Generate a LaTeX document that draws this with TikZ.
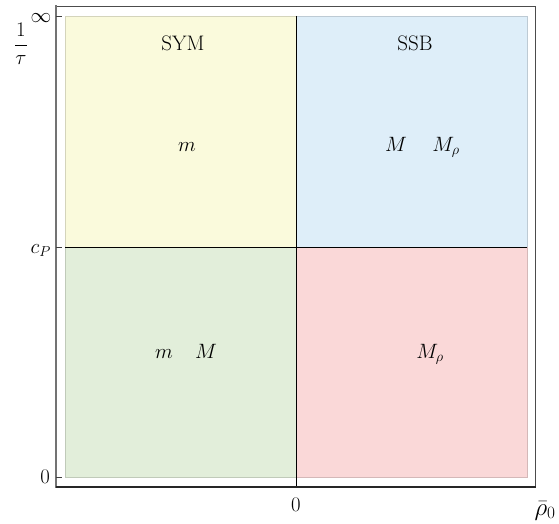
\documentclass[tikz,border=0pt]{standalone}
\usepackage{xcolor}
\usepackage{amsmath,amssymb}
\usepackage{tikz}
\usetikzlibrary{calc, positioning}

\definecolor{symfill}{RGB}{250,250,220}
\definecolor{ssbfill}{RGB}{222,238,249}
\definecolor{grnfill}{RGB}{226,238,218}
\definecolor{pnkfill}{RGB}{250,216,216}

\begin{document}
\begin{tikzpicture}[
  x=1pt, y=-1pt, font=\fontsize{21}{25}\selectfont,
  quad/.style={line width=0.7pt},
  frm/.style={draw=black!70, line width=0.8pt},
  tck/.style={black!75, line width=0.8pt},
  dv/.style={black, line width=0.7pt},
  lbl/.style={inner sep=0pt, anchor=base}]
  \useasboundingbox (0,0) rectangle (559,524);
  \def\xl{65}\def\xm{296}\def\xr{527}
  \def\yt{16}\def\ym{247}\def\yb{477}
  % quadrants
  \filldraw[quad, fill=symfill, draw=symfill!85!black] (\xl,\yt) rectangle (\xm,\ym);
  \filldraw[quad, fill=ssbfill, draw=ssbfill!85!black] (\xm,\yt) rectangle (\xr,\ym);
  \filldraw[quad, fill=grnfill, draw=grnfill!85!black] (\xl,\ym) rectangle (\xm,\yb);
  \filldraw[quad, fill=pnkfill, draw=pnkfill!85!black] (\xm,\ym) rectangle (\xr,\yb);
  % dividers
  \coordinate (dtop) at (\xm,\yt); \coordinate (dbot) at (\xm,487);
  \coordinate (dlft) at (\xl,\ym); \coordinate (drgt) at (\xr,\ym);
  \draw[dv] (dtop) -- (dbot); \draw[dv] (dlft) -- (drgt);
  % frame
  \draw[frm] (56,6) rectangle (535,487);
  \draw[black!55, line width=1.8pt] (56,5.5) -- (56,487.5);
  \draw[black!85, line width=1.4pt] (55.5,487) -- (535.5,487);
  \foreach \yy in {\yt,\ym,\yb} \draw[tck] (56,\yy) -- (62,\yy);
  % tick labels
  \node[anchor=center] (inf) at (41,18) {$\infty$};
  \node[anchor=center] (tau) at (21,44) {$\dfrac{1}{\tau}$};
  \node[anchor=base east, inner sep=1pt] (cp) at (52,253) {$c_P$};
  \node[anchor=east, inner sep=1pt] (yzero) at (51,477) {$0$};
  \node[anchor=center] (xzero) at (296,505) {$0$};
  \node[anchor=base, inner sep=0pt, font=\fontsize{24}{28}\selectfont] (rho) at (545,515) {$\bar{\rho}_0$};
  % phase labels
  \node[lbl] (sym) at (183,51) {SYM};
  \node[lbl] (ssb) at (415,51) {SSB};
  \node[lbl] (msym) at (187,151) {$m$};
  \node[lbl] (Mssb) at (396,151) {$M$};
  \node[lbl] (Mrssb) at (446,151) {$M_\rho$};
  \node[lbl] (mgrn) at (164,358) {$m$};
  \node[lbl] (Mgrn) at (206,358) {$M$};
  \node[lbl] (Mrpnk) at (430,358) {$M_\rho$};
\end{tikzpicture}
\end{document}
